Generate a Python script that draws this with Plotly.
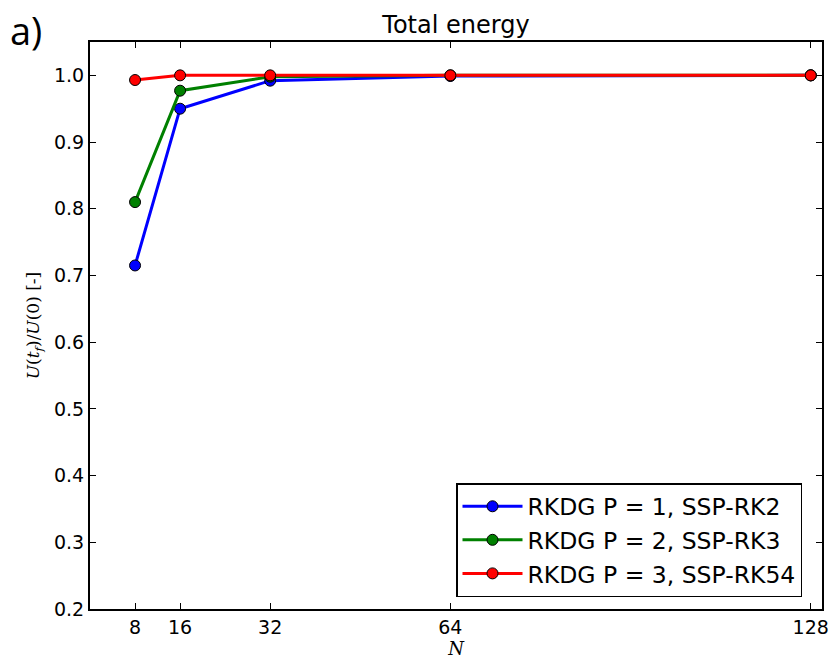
import plotly.graph_objects as go

N = [8, 16, 32, 64, 128]
p1_rk2 = [0.715, 0.950, 0.992, 0.999, 1.000]
p2_rk3 = [0.810, 0.977, 0.998, 1.000, 1.000]
p3_rk54 = [0.993, 1.000, 1.000, 1.000, 1.000]
series_names = ["RKDG P = 1, SSP-RK2", "RKDG P = 2, SSP-RK3", "RKDG P = 3, SSP-RK54"]
series_colors = ["#0000ff", "#008000", "#ff0000"]
x_ticks = [8, 16, 32, 64, 128]
y_ticks = [0.2, 0.3, 0.4, 0.5, 0.6, 0.7, 0.8, 0.9, 1.0]

fig = go.Figure()
for name, vals, col in zip(series_names, [p1_rk2, p2_rk3, p3_rk54], series_colors):
    fig.add_trace(go.Scatter(
        x=N, y=vals, name=name, mode="lines+markers",
        line=dict(color=col, width=3),
        marker=dict(color=col, size=11, line=dict(color="black", width=1)),
    ))

font_main = "DejaVu Sans"
fig.update_layout(
    width=831, height=660,
    margin=dict(l=90, r=9, t=42, b=51, autoexpand=False),
    paper_bgcolor="white", plot_bgcolor="white",
    font=dict(family=font_main, size=19, color="black"),
    title=dict(text="Total energy", x=0.5, xref="paper", xanchor="center",
               y=1, yref="paper", yanchor="bottom", pad=dict(b=9),
               font=dict(family=font_main, size=24, color="black")),
    xaxis=dict(range=[0, 130], tickvals=x_ticks, ticktext=[str(t) for t in x_ticks],
               ticks="inside", ticklen=6, tickwidth=1, tickcolor="black",
               showline=True, linecolor="black", linewidth=2, mirror="allticks",
               showgrid=False, zeroline=False, automargin=False,
               tickfont=dict(family=font_main, size=19),
               title=dict(text="<i>N</i>", standoff=4,
                          font=dict(family="DejaVu Serif", size=18))),
    yaxis=dict(range=[0.2, 1.05], tickvals=y_ticks, ticktext=[f"{t:.1f}" for t in y_ticks],
               ticks="inside", ticklen=6, tickwidth=1, tickcolor="black",
               showline=True, linecolor="black", linewidth=2, mirror="allticks",
               showgrid=False, zeroline=False, automargin=False,
               tickfont=dict(family=font_main, size=19),
               title=dict(text="<i>U</i>(<i>t<sub>f</sub></i>)/<i>U</i>(0) [-]", standoff=10,
                          font=dict(family="DejaVu Serif", size=17))),
    legend=dict(x=(802 - 90) / 732, y=(609 - 597) / 567, xanchor="right", yanchor="bottom",
                bgcolor="white", bordercolor="black", borderwidth=1.5,
                font=dict(family=font_main, size=23.5), itemwidth=60,
                tracegroupgap=0),
    showlegend=True,
)

fig.add_annotation(text="a)", x=-82 / 732, y=1 + 40 / 567, xref="paper", yref="paper",
                   xanchor="left", yanchor="top", showarrow=False,
                   font=dict(family="Open Sans", size=38, color="black"))

fig.write_html("out.html", config={"displayModeBar": False},
               post_script="document.body.style.margin='0';")
